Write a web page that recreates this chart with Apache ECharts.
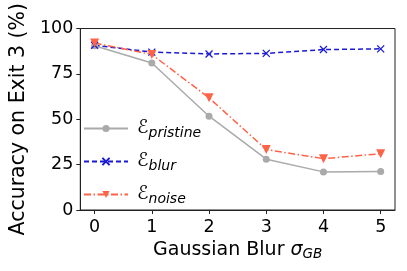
<!DOCTYPE html>
<html><head><meta charset="utf-8">
<script src="https://cdn.jsdelivr.net/npm/echarts@6/dist/echarts.min.js"></script>
<style>html,body{margin:0;padding:0;background:#fff}#c{width:407px;height:271px}</style>
</head><body><div id="c"></div>
<script>
const xValues = [0, 1, 2, 3, 4, 5];
const pristine = [90.5, 81, 51.7, 28, 21, 21.2];
const blur = [90.8, 87, 86, 86.3, 88.4, 88.8];
const noise = [92, 85.7, 61.8, 33.3, 28.3, 31];
const yTicks = [0, 25, 50, 75, 100];

const chart = echarts.init(document.getElementById('c'), null, {renderer: 'canvas'});
const pair = a => a.map((v, i) => [xValues[i], v]);
const font = 'DejaVu Sans';
const legendRich = {
  e: {fontFamily: font, fontSize: 19, color: '#000', fontStyle: 'italic'},
  s: {fontFamily: font, fontSize: 14, color: '#000', fontStyle: 'italic', padding: [9, 0, 0, 0]}
};
chart.setOption({
  animation: false,
  grid: {left: 75, right: 12, top: 25, bottom: 61, show: true, borderColor: '#222', borderWidth: 1, backgroundColor: 'transparent'},
  legend: {
    left: 78, top: 114, orient: 'vertical', itemWidth: 44, itemHeight: 9, itemGap: 12,
    data: ['pristine', 'blur', 'noise'],
    formatter: n => '{e|ℰ}{s|' + n + '}',
    textStyle: {rich: legendRich, padding: [0, 0, 0, 4]}
  },
  xAxis: {
    type: 'value', min: -0.25, max: 5.25,
    name: '{n|Gaussian Blur }{g|σ}{s|GB}', nameLocation: 'middle', nameGap: 29,
    nameTextStyle: {rich: {
      n: {fontFamily: font, fontSize: 19, color: '#000'},
      g: {fontFamily: font, fontSize: 19, color: '#000', fontStyle: 'italic'},
      s: {fontFamily: font, fontSize: 13.5, color: '#000', fontStyle: 'italic', padding: [8, 0, 0, 0]}
    }},
    axisLine: {show: true, lineStyle: {color: '#222', width: 1}},
    axisTick: {show: true, inside: false, length: 4, customValues: xValues, lineStyle: {color: '#222'}},
    axisLabel: {customValues: xValues, fontFamily: font, fontSize: 17.5, color: '#000', margin: 8},
    splitLine: {show: false}
  },
  yAxis: {
    type: 'value', min: 0, max: 100, interval: 25,
    name: 'Accuracy on Exit 3 (%)', nameLocation: 'middle', nameGap: 47,
    nameTextStyle: {fontFamily: font, fontSize: 20.5, color: '#000'},
    axisLine: {show: true, onZero: false, lineStyle: {color: '#222', width: 1}},
    axisTick: {show: true, length: 4, lineStyle: {color: '#222'}},
    axisLabel: {fontFamily: font, fontSize: 17.5, color: '#000', margin: 7, formatter: v => yTicks.includes(v) ? String(v) : ''},
    splitLine: {show: false}
  },
  series: [
    {name: 'pristine', type: 'line', data: pair(pristine), symbol: 'circle', symbolSize: 7,
      lineStyle: {color: '#aaaaaa', width: 1.5}, itemStyle: {color: '#aaaaaa'}},
    {name: 'blur', type: 'line', data: pair(blur), symbol: 'path://M0,0L10,10M10,0L0,10', symbolSize: 7,
      lineStyle: {color: '#1a1ad6', width: 1.5, type: [5, 3]}, itemStyle: {color: 'transparent', borderColor: '#1a1ad6', borderWidth: 1.3}},
    {name: 'noise', type: 'line', data: pair(noise), symbol: 'triangle', symbolRotate: 180, symbolSize: 9,
      lineStyle: {color: '#ff6347', width: 1.5, type: [7, 2.5, 1.5, 2.5]}, itemStyle: {color: '#ff6347'}}
  ]
});
</script></body></html>
